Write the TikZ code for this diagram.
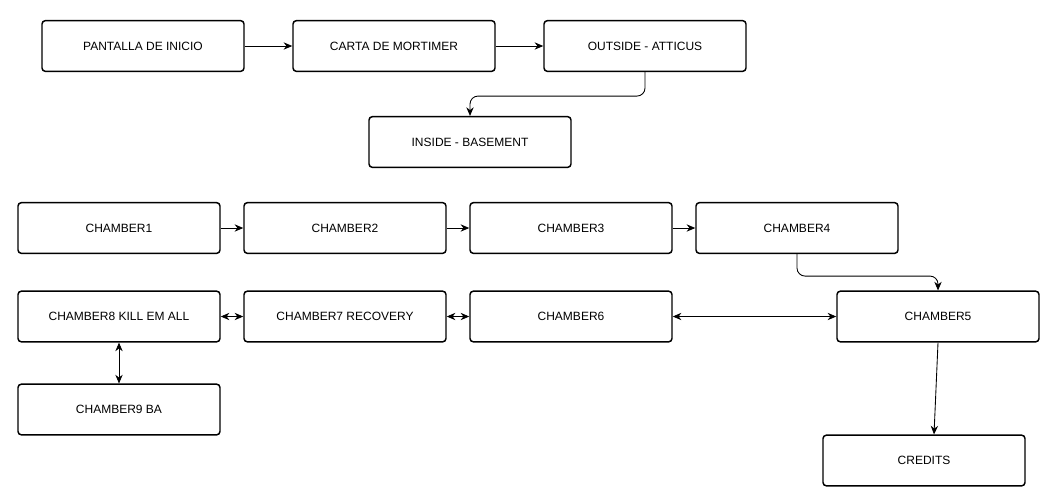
\documentclass[tikz,border=0pt]{standalone}
\usepackage{fontspec}
\setmainfont{Liberation Sans}
\usetikzlibrary{arrows.meta}

\begin{document}
\begin{tikzpicture}[x=0.75pt, y=-0.75pt, >={Stealth[length=6.5pt,width=5.5pt]},
    every node/.style={font=\fontsize{9}{10}\selectfont},
    room/.style={draw, line width=1.1pt, rounded corners=2.5pt, minimum width=151.5pt, minimum height=38pt, inner sep=0pt},
    link/.style={line width=0.65pt}]
  \useasboundingbox (0,0) rectangle (1049,497);
  % intro
  \node[room] (inicio)   at (143,46)  {PANTALLA DE INICIO};
  \node[room] (carta)    at (394,46)  {CARTA DE MORTIMER};
  \node[room] (outside)  at (645,46)  {OUTSIDE - ATTICUS};
  \node[room] (inside)   at (470,142) {INSIDE - BASEMENT};
  % chambers
  \node[room] (ch1) at (119,228)   {CHAMBER1};
  \node[room] (ch2) at (345,228)   {CHAMBER2};
  \node[room] (ch3) at (571,228)   {CHAMBER3};
  \node[room] (ch4) at (797,228)   {CHAMBER4};
  \node[room] (ch8) at (119,316.5) {CHAMBER8 KILL EM ALL};
  \node[room] (ch7) at (345,316.5) {CHAMBER7 RECOVERY};
  \node[room] (ch6) at (571,316.5) {CHAMBER6};
  \node[room] (ch5) at (938,316.5) {CHAMBER5};
  \node[room] (ch9) at (119,409.5) {CHAMBER9 BA};
  \node[room] (credits) at (924,460.5) {CREDITS};
  % connectors
  \draw[link,->] (inicio) -- (carta);
  \draw[link,->] (carta) -- (outside);
  \draw[link,->,rounded corners=6pt] (outside.south) -- ++(0,24) -| (inside.north);
  \draw[link,->] (ch1) -- (ch2);
  \draw[link,->] (ch2) -- (ch3);
  \draw[link,->] (ch3) -- (ch4);
  \draw[link,->,rounded corners=6pt] (ch4.south) -- ++(0,22) -| (ch5.north);
  \draw[link,<->] (ch6) -- (ch5);
  \draw[link,<->] (ch7) -- (ch6);
  \draw[link,<->] (ch8) -- (ch7);
  \draw[link,<->] (ch8) -- (ch9);
  \draw[link,->] (ch5.south) -- ([xshift=7.5pt]credits.north);
\end{tikzpicture}
\end{document}
